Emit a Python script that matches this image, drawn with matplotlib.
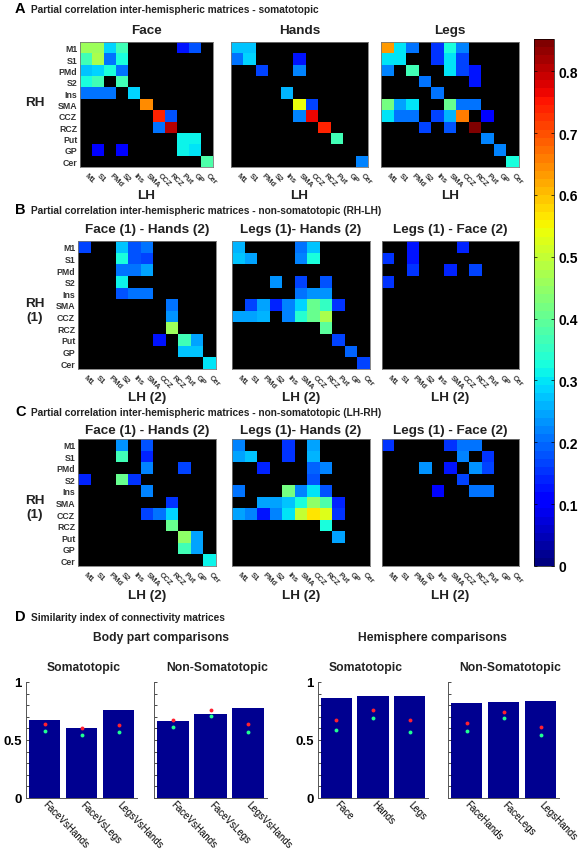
import numpy as np
import matplotlib
matplotlib.use('Agg')
import matplotlib.pyplot as plt

plt.rcParams['font.family'] = ['Liberation Sans', 'DejaVu Sans']

# ---------------- data ----------------
regions = ['M1', 'S1', 'PMd', 'S2', 'Ins', 'SMA', 'CCZ', 'RCZ', 'Put', 'GP', 'Cer']
VMAX = 0.852
cbar_ticks = [0, 0.1, 0.2, 0.3, 0.4, 0.5, 0.6, 0.7, 0.8]

# nonzero partial correlations: (RH row index, LH column index, value)
A_face = [(0, 0, .46), (0, 1, .46), (0, 2, .28), (0, 3, .37), (0, 8, .12), (0, 9, .18),
          (1, 0, .36), (1, 1, .47), (1, 2, .20), (1, 3, .33),
          (2, 0, .27), (2, 1, .29), (2, 2, .33), (2, 3, .20),
          (3, 0, .32), (3, 1, .36), (3, 3, .37),
          (4, 0, .20), (4, 1, .20), (4, 2, .20), (4, 4, .28),
          (5, 5, .65),
          (6, 6, .74), (6, 7, .18),
          (7, 6, .20), (7, 7, .80),
          (8, 8, .31), (8, 9, .31),
          (9, 1, .10), (9, 3, .10), (9, 8, .31), (9, 9, .30),
          (10, 10, .38)]
A_hands = [(0, 0, .27), (0, 1, .27),
           (1, 0, .20), (1, 1, .28), (1, 5, .13),
           (2, 2, .16), (2, 5, .22),
           (4, 4, .26),
           (5, 5, .54), (5, 6, .16),
           (6, 5, .22), (6, 6, .77),
           (7, 7, .74),
           (8, 8, .36),
           (10, 10, .22)]
A_legs = [(0, 0, .63), (0, 1, .30), (0, 2, .20), (0, 4, .15), (0, 5, .32), (0, 6, .22),
          (1, 0, .30), (1, 1, .30), (1, 4, .15), (1, 5, .30), (1, 6, .16),
          (2, 0, .22), (2, 2, .36), (2, 5, .30), (2, 6, .16), (2, 7, .13),
          (3, 3, .20), (3, 7, .13),
          (4, 4, .20),
          (5, 0, .42), (5, 1, .24), (5, 2, .30), (5, 5, .40), (5, 6, .20), (5, 7, .20),
          (6, 0, .30), (6, 1, .20), (6, 2, .20), (6, 4, .17), (6, 5, .26), (6, 6, .66), (6, 8, .10),
          (7, 3, .17), (7, 5, .18), (7, 7, .84),
          (8, 8, .22),
          (9, 9, .22),
          (10, 10, .32)]
B_face_hands = [(0, 0, .17), (0, 3, .27), (0, 4, .18), (0, 5, .20),
                (1, 3, .32), (1, 4, .18), (1, 5, .17),
                (2, 3, .20), (2, 4, .20), (2, 5, .25),
                (3, 3, .31),
                (4, 3, .18), (4, 4, .21), (4, 5, .21),
                (5, 7, .20),
                (6, 7, .23),
                (7, 7, .46),
                (8, 6, .12), (8, 8, .37), (8, 9, .24),
                (9, 8, .27), (9, 9, .27),
                (10, 10, .30)]
B_legs_hands = [(0, 0, .26), (0, 5, .20), (0, 6, .27),
                (1, 0, .27), (1, 1, .24), (1, 5, .22), (1, 6, .32),
                (3, 3, .23), (3, 5, .17), (3, 7, .18),
                (4, 5, .20), (4, 6, .23), (4, 7, .23),
                (5, 1, .17), (5, 2, .25), (5, 3, .14), (5, 4, .22), (5, 5, .28), (5, 6, .40),
                (5, 7, .35), (5, 8, .15),
                (6, 0, .25), (6, 1, .25), (6, 2, .26), (6, 4, .22), (6, 5, .34), (6, 6, .41), (6, 7, .47),
                (7, 7, .39),
                (8, 8, .17),
                (9, 9, .19),
                (10, 10, .17)]
B_legs_face = [(0, 2, .12), (0, 6, .14),
               (1, 0, .15), (1, 2, .12),
               (2, 2, .15), (2, 5, .14), (2, 7, .17),
               (3, 0, .15)]
C_face_hands = [(0, 3, .23), (0, 5, .18),
                (1, 3, .36), (1, 5, .14),
                (2, 5, .22), (2, 8, .16),
                (3, 0, .14), (3, 3, .40), (3, 4, .15),
                (4, 5, .22),
                (5, 7, .15),
                (6, 5, .17), (6, 6, .20), (6, 7, .28),
                (7, 7, .40),
                (8, 8, .44), (8, 9, .25),
                (9, 8, .36), (9, 9, .24),
                (10, 10, .31)]
C_legs_hands = [(0, 0, .22), (0, 4, .15), (0, 6, .25),
                (1, 0, .25), (1, 1, .27), (1, 4, .15), (1, 6, .26),
                (2, 2, .14), (2, 6, .19), (2, 7, .22),
                (3, 6, .18),
                (4, 0, .20), (4, 4, .42), (4, 5, .22), (4, 6, .30), (4, 7, .18),
                (5, 2, .25), (5, 3, .25), (5, 4, .27), (5, 5, .32), (5, 6, .45), (5, 7, .38), (5, 8, .14),
                (6, 0, .25), (6, 1, .22), (6, 2, .13), (6, 3, .22), (6, 4, .30), (6, 5, .50), (6, 6, .56),
                (6, 7, .52), (6, 8, .15),
                (7, 7, .33),
                (8, 8, .25)]
C_legs_face = [(0, 0, .15), (0, 5, .15), (0, 6, .20), (0, 7, .20),
               (1, 6, .22), (1, 8, .15),
               (2, 3, .23), (2, 5, .12), (2, 7, .23), (2, 8, .16),
               (3, 6, .17),
               (4, 4, .11), (4, 7, .21), (4, 8, .21)]

# similarity index bars
body_labels = ['FaceVsHands', 'FaceVsLegs', 'LegsVsHands']
body_soma_bar = [0.67, 0.60, 0.76]
body_soma_red = [0.64, 0.60, 0.63]
body_soma_green = [0.58, 0.54, 0.57]
body_nonsoma_bar = [0.66, 0.72, 0.78]
body_nonsoma_red = [0.67, 0.76, 0.64]
body_nonsoma_green = [0.61, 0.71, 0.57]
hemi_soma_labels = ['Face', 'Hands', 'Legs']
hemi_soma_bar = [0.865, 0.88, 0.88]
hemi_soma_red = [0.67, 0.76, 0.67]
hemi_soma_green = [0.59, 0.69, 0.57]
hemi_nonsoma_labels = ['FaceHands', 'FaceLegs', 'LegsHands']
hemi_nonsoma_bar = [0.816, 0.825, 0.84]
hemi_nonsoma_red = [0.65, 0.74, 0.61]
hemi_nonsoma_green = [0.58, 0.69, 0.54]

# ---------------- figure ----------------
W, H = 581, 853
fig = plt.figure(figsize=(W / 100, H / 100), dpi=100)
TXT_C = '#222222'


def ax_px(x0, y0, x1, y1):
    return fig.add_axes([x0 / W, 1 - y1 / H, (x1 - x0) / W, (y1 - y0) / H])


def txt(x, y, s, **kw):
    kw.setdefault('ha', 'center')
    kw.setdefault('va', 'center')
    fig.text(x / W, 1 - y / H, s, **kw)


cmap = plt.get_cmap('jet', 64).copy()
cmap.set_bad('black')


def draw_matrix(x0, y0, x1, y1, entries, ylabels):
    ax = ax_px(x0, y0, x1, y1)
    M = np.zeros((11, 11))
    for r, c, v in entries:
        M[r, c] = v
    im = ax.imshow(np.ma.masked_where(M == 0, M), cmap=cmap, vmin=0, vmax=VMAX,
                   aspect='auto', interpolation='nearest')
    ax.set_facecolor('black')
    ax.set_xticks(range(11))
    ax.set_xticklabels(regions, rotation=-45, ha='left', va='center',
                       rotation_mode='anchor', fontsize=5.5, fontweight='bold', color='#333333')
    ax.set_yticks(range(11))
    if ylabels:
        ax.set_yticklabels(regions, fontsize=6.3, fontweight='bold', color='#333333')
    else:
        ax.set_yticklabels([])
    ax.tick_params(axis='x', length=0, pad=5)
    ax.tick_params(axis='y', length=0, pad=2)
    for s in ax.spines.values():
        s.set_color('#777777')
        s.set_linewidth(0.6)
    return im


# panel headings
def heading(y, letter, rest):
    txt(15, y, letter, ha='left', fontsize=10.5, fontweight='bold')
    txt(31, y + 1, rest, ha='left', fontsize=7.3, fontweight='bold', color=TXT_C)


heading(9, 'A', 'Partial correlation inter-hemispheric matrices - somatotopic')
heading(210, 'B', 'Partial correlation inter-hemispheric matrices - non-somatotopic (RH-LH)')
heading(412, 'C', 'Partial correlation inter-hemispheric matrices - non-somatotopic (LH-RH)')
heading(617, 'D', 'Similarity index of connectivity matrices')

cols_A = [(80, 213), (231, 368), (381, 519)]
cols_BC = [(78, 216), (232, 370), (382, 519)]

# Row A
titles_A = ['Face', 'Hands', 'Legs']
for (x0, x1), t, e, yl in zip(cols_A, titles_A, [A_face, A_hands, A_legs], [True, False, False]):
    im = draw_matrix(x0, 43, x1, 168, e, yl)
    txt((x0 + x1) / 2, 31, t, fontsize=9.7, fontweight='bold', color=TXT_C)
    txt((x0 + x1) / 2, 196, 'LH', fontsize=9.7, fontweight='bold', color=TXT_C)
txt(35, 103, 'RH', fontsize=9.7, fontweight='bold', color=TXT_C)

# Row B
titles_BC = ['Face (1) - Hands (2)', 'Legs (1)- Hands (2)', 'Legs (1) - Face (2)']
for (x0, x1), t, e, yl in zip(cols_BC, titles_BC, [B_face_hands, B_legs_hands, B_legs_face], [True, False, False]):
    draw_matrix(x0, 242, x1, 370, e, yl)
    txt((x0 + x1) / 2, 230, t, fontsize=9.7, fontweight='bold', color=TXT_C)
    txt((x0 + x1) / 2, 398, 'LH (2)', fontsize=9.7, fontweight='bold', color=TXT_C)
txt(35, 311, 'RH\n(1)', fontsize=9.7, fontweight='bold', color=TXT_C, linespacing=1.3)

# Row C
for (x0, x1), t, e, yl in zip(cols_BC, titles_BC, [C_face_hands, C_legs_hands, C_legs_face], [True, False, False]):
    draw_matrix(x0, 440, x1, 567, e, yl)
    txt((x0 + x1) / 2, 431, t, fontsize=9.7, fontweight='bold', color=TXT_C)
    txt((x0 + x1) / 2, 596, 'LH (2)', fontsize=9.7, fontweight='bold', color=TXT_C)
txt(35, 508, 'RH\n(1)', fontsize=9.7, fontweight='bold', color=TXT_C, linespacing=1.3)

# colorbar
cax = ax_px(534, 40, 554, 567)
cb = fig.colorbar(im, cax=cax, ticks=cbar_ticks)
cb.ax.set_yticklabels(['0'] + ['%.1f' % t for t in cbar_ticks[1:]], fontsize=10, fontweight='bold')
cb.ax.tick_params(length=2, width=0.5, direction='in', left=True, right=True, pad=3)
cb.outline.set_linewidth(0.5)

# ---------------- bar panels ----------------
BAR_C = '#000090'


def bar_panel(x0, x1, labels, bars, red, green, ylab, rot):
    ax = ax_px(x0, 683, x1, 799)
    xs = np.arange(1, 4)
    ax.bar(xs, bars, width=0.86, color=BAR_C, zorder=1)
    ax.plot(xs, red, 'o', color='#ff2030', ms=2.8, mew=0, zorder=3)
    ax.plot(xs, green, 'o', color='#20ff90', ms=2.8, mew=0, zorder=3)
    ax.set_xlim(0.5, 3.5)
    ax.set_ylim(0, 1)
    ax.set_yticks([0, 0.5, 1])
    ax.set_yticks(np.arange(0.1, 1.0, 0.1), minor=True)
    if ylab:
        ax.set_yticklabels(['0', '0.5', '1'], fontsize=9.5, fontweight='bold')
    else:
        ax.set_yticklabels([])
    ax.tick_params(axis='y', which='both', direction='in', length=2, width=0.5, pad=3)
    ax.set_xticks(xs)
    ax.set_xticklabels(labels, rotation=rot, ha='left', va='center', rotation_mode='anchor',
                       fontsize=7, color='black')
    ax.tick_params(axis='x', length=0, pad=3)
    for s in ['top', 'right']:
        ax.spines[s].set_visible(False)
    for s in ['left', 'bottom']:
        ax.spines[s].set_color('#555555')
        ax.spines[s].set_linewidth(0.7)
    return ax


bar_panel(26, 137, body_labels, body_soma_bar, body_soma_red, body_soma_green, True, -46)
bar_panel(154, 267, body_labels, body_nonsoma_bar, body_nonsoma_red, body_nonsoma_green, False, -46)
bar_panel(318, 428, hemi_soma_labels, hemi_soma_bar, hemi_soma_red, hemi_soma_green, True, -46)
bar_panel(448, 559, hemi_nonsoma_labels, hemi_nonsoma_bar, hemi_nonsoma_red, hemi_nonsoma_green, False, -46)

txt(161, 638, 'Body part comparisons', fontsize=8.7, fontweight='bold', color=TXT_C)
txt(432, 638, 'Hemisphere comparisons', fontsize=8.7, fontweight='bold', color=TXT_C)
txt(84, 668, 'Somatotopic', fontsize=8.7, fontweight='bold', color=TXT_C)
txt(217, 668, 'Non-Somatotopic', fontsize=8.7, fontweight='bold', color=TXT_C)
txt(366, 668, 'Somatotopic', fontsize=8.7, fontweight='bold', color=TXT_C)
txt(510, 668, 'Non-Somatotopic', fontsize=8.7, fontweight='bold', color=TXT_C)

fig.savefig('out.png', dpi=100)
